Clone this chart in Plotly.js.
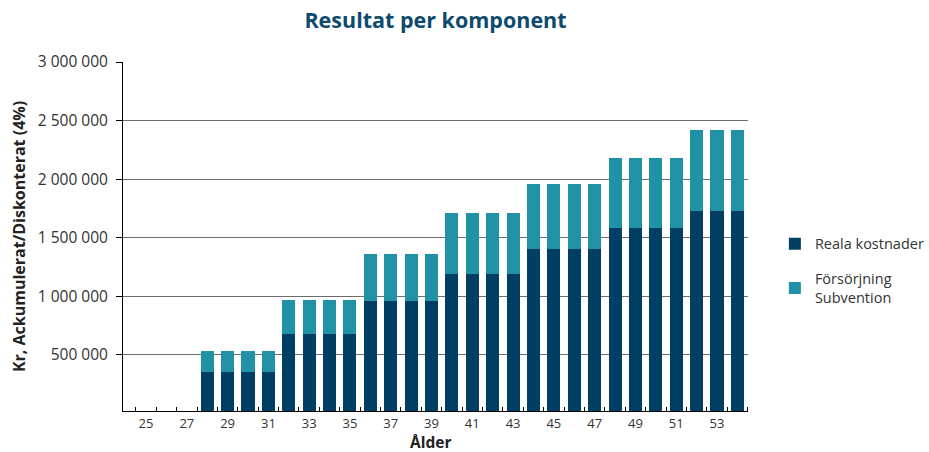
<!DOCTYPE html>
<html>
<head>
<meta charset="utf-8">
<script src="https://cdn.plot.ly/plotly-3.0.1.min.js"></script>
<style>html,body{margin:0;padding:0;background:#fff;}#chart{width:929px;height:452px;}</style>
</head>
<body>
<div id="chart"></div>
<script>
const ages = [24,25,26,27,28,29,30,31,32,33,34,35,36,37,38,39,40,41,42,43,44,45,46,47,48,49,50,51,52,53,54];
const realaKostnader = [0,0,0,0,353000,353000,353000,353000,677000,677000,677000,677000,958000,958000,958000,958000,1188000,1188000,1188000,1188000,1401000,1401000,1401000,1401000,1580000,1580000,1580000,1580000,1725000,1725000,1725000];
const totalTop = [0,0,0,0,532000,532000,532000,532000,967000,967000,967000,967000,1359000,1359000,1359000,1359000,1708000,1708000,1708000,1708000,1963000,1963000,1963000,1963000,2185000,2185000,2185000,2185000,2423000,2423000,2423000];
const forsorjning = totalTop.map((t,i)=>t-realaKostnader[i]);
const xTickVals = [25,27,29,31,33,35,37,39,41,43,45,47,49,51,53];
const yTickVals = [500000,1000000,1500000,2000000,2500000,3000000];
const xTitle = 'Ålder';

const data = [
  {type:'bar', x: ages, y: realaKostnader, name:'Reala kostnader', legendgroup:'a',
   marker:{color:'#003f63'}, hoverinfo:'skip'},
  {type:'bar', x: ages, y: forsorjning, name:'Försörjning<br>Subvention', legendgroup:'b',
   marker:{color:'#2192a6'}, hoverinfo:'skip'}
];
const layout = {
  width:929, height:452,
  margin:{l:123, r:181, t:62, b:41, autoexpand:false},
  paper_bgcolor:'#fff', plot_bgcolor:'#fff',
  separators:', ',
  font:{family:'"Open Sans", sans-serif', color:'#333', size:12},
  barmode:'stack', bargap:0.36,
  title:{text:'<b>Resultat per komponent</b>', x:0.5, xref:'paper', xanchor:'center', y:0.955, yanchor:'middle',
         font:{family:'"Open Sans", sans-serif', size:21.5, color:'#0d4a6d'}},
  showlegend:true,
  legend:{x:1.043, xanchor:'left', y:0.525, yanchor:'top', traceorder:'grouped+normal', tracegroupgap:13,
          font:{size:14.5, color:'#333'}, bgcolor:'rgba(0,0,0,0)'},
  xaxis:{range:[23.87,54.52], tickvals:xTickVals, ticktext:xTickVals.map(String), ticks:'',
         showline:true, linecolor:'#000', linewidth:1, showgrid:false, zeroline:false, automargin:false,
         tickfont:{size:13, color:'#333'},
         minor:{tick0:0.5, dtick:1, ticks:'inside', ticklen:4, tickcolor:'#000', showgrid:false}},
  yaxis:{range:[22000,3000000], tickvals:yTickVals, tickformat:',d', ticks:'outside', ticklen:6, tickcolor:'#000',
         ticklabelstandoff:5,
         showline:true, linecolor:'#000', linewidth:1, showgrid:true, gridcolor:'#6e6e6e', gridwidth:1, zeroline:false,
         tickfont:{size:15.5, color:'#333'},
         title:{text:'<b>Kr, Ackumulerat/Diskonterat (4%)</b>', font:{size:16, color:'#222'}, standoff:8}},
  annotations:[{text:'<b>'+xTitle+'</b>', xref:'paper', yref:'paper', x:0.4915, y:-0.0888,
                xanchor:'center', yanchor:'middle', showarrow:false, borderpad:0, font:{size:15.5, color:'#222'}}]
};
Plotly.newPlot('chart', data, layout, {displayModeBar:false, staticPlot:true});
</script>
</body>
</html>
